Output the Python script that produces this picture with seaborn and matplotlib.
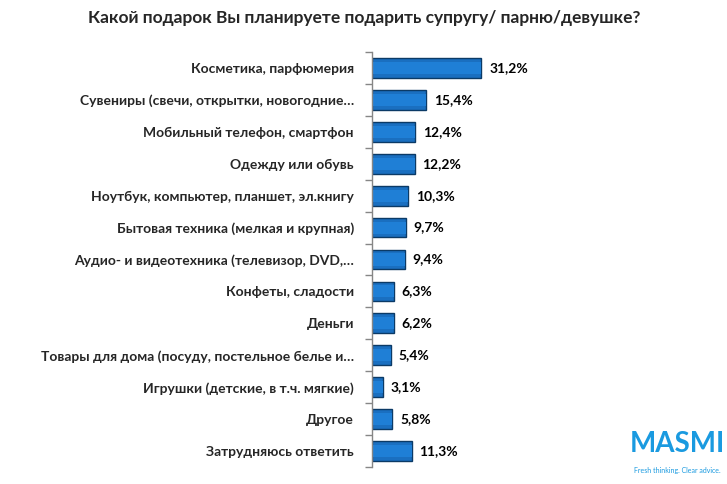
import matplotlib
matplotlib.use("Agg")
import matplotlib.pyplot as plt
import seaborn as sns
import pandas as pd
import numpy as np

categories = [
    "Косметика, парфюмерия",
    "Сувениры (свечи, открытки, новогодние…",
    "Мобильный телефон, смартфон",
    "Одежду или обувь",
    "Ноутбук, компьютер, планшет, эл.книгу",
    "Бытовая техника (мелкая и крупная)",
    "Аудио- и видеотехника (телевизор, DVD,…",
    "Конфеты, сладости",
    "Деньги",
    "Товары для дома (посуду, постельное белье и…",
    "Игрушки (детские, в т.ч. мягкие)",
    "Другое",
    "Затрудняюсь ответить",
]
values = [31.2, 15.4, 12.4, 12.2, 10.3, 9.7, 9.4, 6.3, 6.2, 5.4, 3.1, 5.8, 11.3]
title = "Какой подарок Вы планируете подарить супругу/ парню/девушке?"

sns.set_theme(style="white")
plt.rcParams['font.family'] = ['Lato', 'DejaVu Sans']

df = pd.DataFrame({"cat": categories, "val": values})

fig = plt.figure(figsize=(7.27, 4.84), dpi=100)
ax = fig.add_axes([372/727, 1-467/484, 228/727, 415/484])

sns.barplot(data=df, x="val", y="cat", ax=ax, color="#1a6fc0", width=0.62,
            edgecolor="#0b3a66", linewidth=1.0, saturation=1)
# lighter inner face to hint at the bevel look
sns.barplot(data=df, x="val", y="cat", ax=ax, color="#1f7fd6", width=0.38,
            linewidth=0, saturation=1)

for i, v in enumerate(values):
    ax.text(v + 2.2, i, f"{v:.1f}%".replace(".", ","), va="center", ha="left",
            fontsize=10, fontweight="bold", color="black")

ax.set_xlim(0, 65)
ax.set_ylim(len(categories) - 0.5, -0.5)
ax.set_xlabel("")
ax.set_ylabel("")
ax.set_xticks([])
for s in ["top", "right", "bottom"]:
    ax.spines[s].set_visible(False)
ax.spines["left"].set_color("#868686")
ax.spines["left"].set_linewidth(1.0)
ax.tick_params(axis="y", which="major", length=0, pad=13, labelsize=10)
for lab in ax.get_yticklabels():
    lab.set_fontweight("bold")
ax.set_yticks(np.arange(-0.5, len(categories), 1), minor=True)
ax.tick_params(axis="y", which="minor", length=5, width=1, color="#868686", direction="out", left=True)

fig.text(364/727, 1-18/484, title, ha="center", va="center", fontsize=12.5, fontweight="bold")

fig.text(677/727, 1-444/484, "MASMI", ha="center", va="center", fontsize=20,
         fontweight="bold", color="#1a9ae0")
fig.text(677/727, 1-470/484, "Fresh thinking. Clear advice.", ha="center", va="center",
         fontsize=5, color="#1a9ae0")

fig.savefig("out.png", dpi=100)
